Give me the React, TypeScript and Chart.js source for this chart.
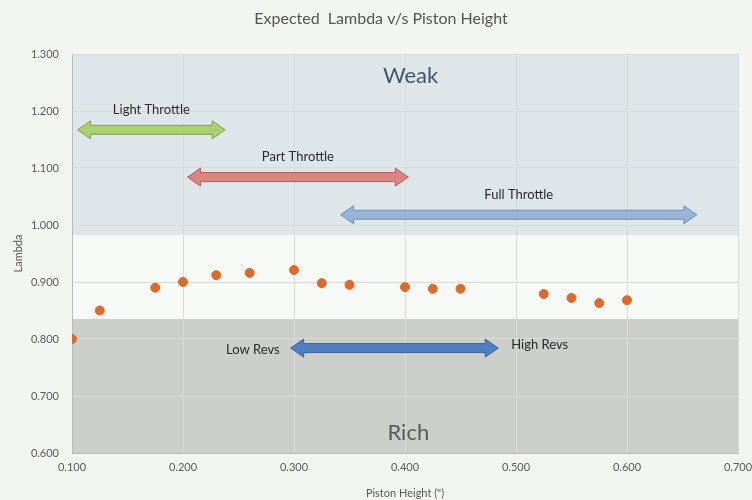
import React, { useEffect, useRef } from "react";
import { Chart, registerables } from "chart.js";

Chart.register(...registerables);

// ---- data ----
const pistonHeight = [0.1, 0.125, 0.175, 0.2, 0.23, 0.26, 0.3, 0.325, 0.35, 0.4, 0.425, 0.45, 0.525, 0.55, 0.575, 0.6];
const lambdaValues = [0.8, 0.85, 0.89, 0.9, 0.912, 0.916, 0.921, 0.898, 0.895, 0.891, 0.888, 0.888, 0.879, 0.872, 0.863, 0.868];

const xTicks = [0.1, 0.2, 0.3, 0.4, 0.5, 0.6, 0.7];
const yMin = 0.6;
const yMax = 1.3;

const weakFrom = 0.982; // lambda above which the mixture is weak
const richTo = 0.835; // lambda below which the mixture is rich
const zoneNames = ["Weak", "Rich"];
const zoneLabelLambda = [1.262, 0.636];
const zoneLabelX = [0.405, 0.403];

const throttleNames = ["Light Throttle", "Part Throttle", "Full Throttle"];
const throttleFrom = [0.105, 0.204, 0.342];
const throttleTo = [0.238, 0.403, 0.663];
const throttleLambda = [1.167, 1.084, 1.018];

const revsNames = ["Low Revs", "High Revs"];
const revsFrom = 0.297;
const revsTo = 0.484;
const revsLambda = 0.784;

const FONT = "Lato, 'Open Sans', sans-serif";

function drawArrow(ctx: CanvasRenderingContext2D, x1: number, x2: number, y: number, fill: string, stroke: string) {
  const sh = 4.5; // shaft half height
  const hh = 9; // head half height
  const hl = 13; // head length
  ctx.save();
  ctx.beginPath();
  ctx.moveTo(x1, y);
  ctx.lineTo(x1 + hl, y - hh);
  ctx.lineTo(x1 + hl, y - sh);
  ctx.lineTo(x2 - hl, y - sh);
  ctx.lineTo(x2 - hl, y - hh);
  ctx.lineTo(x2, y);
  ctx.lineTo(x2 - hl, y + hh);
  ctx.lineTo(x2 - hl, y + sh);
  ctx.lineTo(x1 + hl, y + sh);
  ctx.lineTo(x1 + hl, y + hh);
  ctx.closePath();
  ctx.fillStyle = fill;
  ctx.fill();
  ctx.lineWidth = 1;
  ctx.strokeStyle = stroke;
  ctx.stroke();
  ctx.restore();
}

const overlayPlugin = {
  id: "overlay",
  beforeDraw(chart: any) {
    const { ctx, chartArea, scales } = chart;
    const ys = scales.y;
    ctx.save();
    const yWeak = ys.getPixelForValue(weakFrom);
    const yRich = ys.getPixelForValue(richTo);
    const w = chartArea.right - chartArea.left;
    ctx.fillStyle = "#f7f9f6";
    ctx.fillRect(chartArea.left, chartArea.top, w, chartArea.bottom - chartArea.top);
    ctx.fillStyle = "#dee6ea";
    ctx.fillRect(chartArea.left, chartArea.top, w, yWeak - chartArea.top);
    ctx.fillStyle = "#cbcec9";
    ctx.fillRect(chartArea.left, yRich, w, chartArea.bottom - yRich);
    ctx.restore();
  },
  afterDatasetsDraw(chart: any) {
    const { ctx, scales } = chart;
    const xs = scales.x;
    const ys = scales.y;
    ctx.save();
    // title
    ctx.fillStyle = "#555555";
    ctx.font = `16px ${FONT}`;
    ctx.textAlign = "center";
    ctx.textBaseline = "middle";
    ctx.fillText("Expected  Lambda v/s Piston Height", 381, 19);

    // zone labels
    ctx.font = `22px ${FONT}`;
    zoneNames.forEach((n, i) => {
      ctx.fillStyle = i === 0 ? "#44546a" : "#5a5a5a";
      ctx.fillText(n, xs.getPixelForValue(zoneLabelX[i]), ys.getPixelForValue(zoneLabelLambda[i]));
    });

    // throttle arrows
    const fills = ["#abd072", "#da8580", "#98b4d8"];
    const strokes = ["#7f9e4c", "#b0605a", "#6d8fbd"];
    ctx.font = `13px ${FONT}`;
    throttleNames.forEach((n, i) => {
      const x1 = xs.getPixelForValue(throttleFrom[i]);
      const x2 = xs.getPixelForValue(throttleTo[i]);
      const y = ys.getPixelForValue(throttleLambda[i]);
      drawArrow(ctx, x1, x2, y, fills[i], strokes[i]);
      ctx.fillStyle = "#2a2a2a";
      ctx.textAlign = "center";
      ctx.fillText(n, (x1 + x2) / 2, y - 20);
    });

    // revs arrow
    const rx1 = xs.getPixelForValue(revsFrom);
    const rx2 = xs.getPixelForValue(revsTo);
    const ry = ys.getPixelForValue(revsLambda);
    drawArrow(ctx, rx1, rx2, ry, "#4f7fc2", "#3a6098");
    ctx.fillStyle = "#2a2a2a";
    ctx.textAlign = "right";
    ctx.fillText(revsNames[0], rx1 - 11, ry + 2);
    ctx.textAlign = "left";
    ctx.fillText(revsNames[1], rx2 + 13, ry - 3);
    ctx.restore();
  },
};

export default function App() {
  const ref = useRef<HTMLCanvasElement | null>(null);
  useEffect(() => {
    if (!ref.current) return;
    const chart = new Chart(ref.current, {
      type: "scatter",
      data: {
        datasets: [
          {
            label: "Lambda",
            data: pistonHeight.map((x, i) => ({ x, y: lambdaValues[i] })),
            backgroundColor: "#dc6a2c",
            borderColor: "#dc6a2c",
            pointRadius: 4.5,
            pointHoverRadius: 4.5,
          },
        ],
      },
      options: {
        responsive: false,
        animation: false,
        events: [],
        layout: { padding: { left: 0, right: 14, top: 54, bottom: 0 } },
        plugins: { legend: { display: false }, title: { display: false }, tooltip: { enabled: false } },
        scales: {
          x: {
            type: "linear",
            min: xTicks[0],
            max: xTicks[xTicks.length - 1],
            afterFit: (s: any) => {
              s.height = 47;
              s.paddingRight = 14;
              s.paddingLeft = 0;
            },
            afterBuildTicks: (s: any) => {
              s.ticks = xTicks.map((v) => ({ value: v }));
            },
            ticks: {
              callback: (v: any) => Number(v).toFixed(3),
              color: "#5a5a5a",
              font: { family: FONT, size: 11 },
              padding: 8,
              maxRotation: 0,
            },
            grid: { color: "#d8dcd6", drawTicks: false },
            border: { color: "#b8bcb6" },
            title: {
              display: true,
              text: 'Piston Height (")',
              color: "#5a5a5a",
              font: { family: FONT, size: 11 },
              padding: { top: 4, bottom: 0 },
            },
          },
          y: {
            type: "linear",
            min: yMin,
            max: yMax,
            afterFit: (s: any) => {
              s.width = 72;
            },
            ticks: {
              stepSize: 0.1,
              callback: (v: any) => Number(v).toFixed(3),
              color: "#5a5a5a",
              font: { family: FONT, size: 11 },
              padding: 13,
            },
            grid: { color: "#d8dcd6", drawTicks: false },
            border: { color: "#b8bcb6" },
            title: {
              display: true,
              text: "Lambda",
              color: "#5a5a5a",
              font: { family: FONT, size: 11 },
              padding: { top: 12, bottom: 0 },
            },
          },
        },
      },
      plugins: [overlayPlugin],
    });
    return () => chart.destroy();
  }, []);
  return (
    <div style={{ position: "fixed", left: 0, top: 0, width: 752, height: 500, background: "#f2f5f0" }}>
      <canvas ref={ref} width={752} height={500} style={{ display: "block" }} />
    </div>
  );
}
